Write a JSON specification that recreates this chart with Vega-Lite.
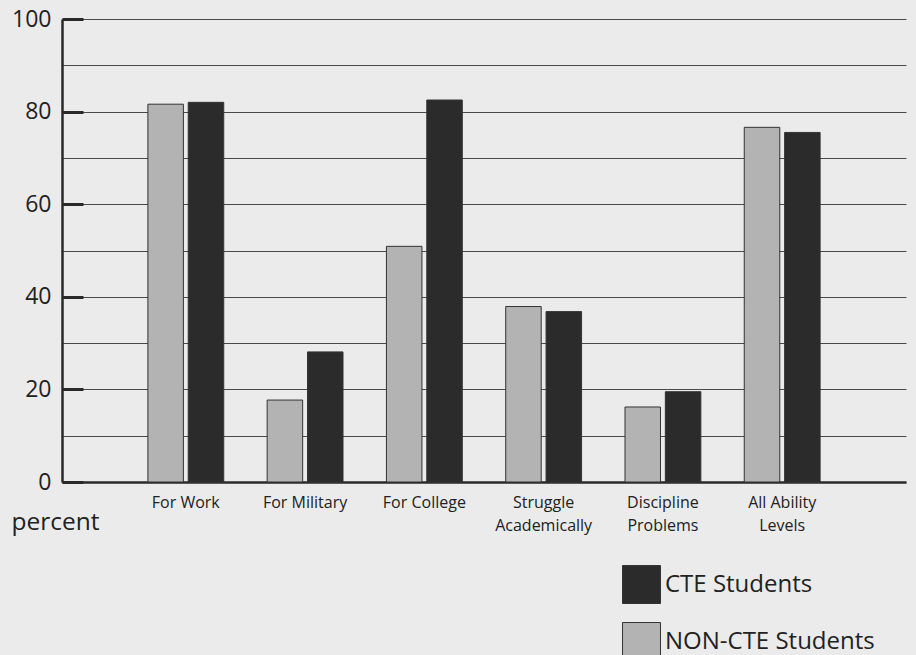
{
  "$schema": "https://vega.github.io/schema/vega-lite/v6.json",
  "width": 844,
  "height": 463,
  "autosize": {"type": "none"},
  "padding": {"left": 62, "top": 19, "right": 10, "bottom": 173},
  "background": "#ebebeb",
  "config": {
    "view": {"stroke": null},
    "font": "Open Sans"
  },
  "data": {
    "values": [
      {"category": "For Work", "group": "NON-CTE Students", "percent": 81.6},
      {"category": "For Work", "group": "CTE Students", "percent": 82.0},
      {"category": "For Military", "group": "NON-CTE Students", "percent": 17.7},
      {"category": "For Military", "group": "CTE Students", "percent": 28.1},
      {"category": "For College", "group": "NON-CTE Students", "percent": 50.9},
      {"category": "For College", "group": "CTE Students", "percent": 82.5},
      {"category": "Struggle Academically", "group": "NON-CTE Students", "percent": 37.9},
      {"category": "Struggle Academically", "group": "CTE Students", "percent": 36.8},
      {"category": "Discipline Problems", "group": "NON-CTE Students", "percent": 16.2},
      {"category": "Discipline Problems", "group": "CTE Students", "percent": 19.5},
      {"category": "All Ability Levels", "group": "NON-CTE Students", "percent": 76.6},
      {"category": "All Ability Levels", "group": "CTE Students", "percent": 75.5}
    ]
  },
  "mark": {"type": "bar", "stroke": "#333333", "strokeWidth": 1},
  "encoding": {
    "x": {
      "field": "category",
      "type": "nominal",
      "sort": null,
      "scale": {"paddingInner": 0.364, "paddingOuter": 0.72},
      "axis": {
        "title": null,
        "labelAngle": 0,
        "labelFontSize": 16,
        "labelColor": "#222222",
        "labelPadding": 12,
        "labelLineHeight": 23,
        "labelBaseline": "top",
        "ticks": false,
        "domainColor": "#2a2a2a",
        "domainWidth": 2.5,
        "labelExpr": "test(/^For /, datum.label) ? datum.label : [slice(datum.label, 0, lastindexof(datum.label, ' ')), slice(datum.label, lastindexof(datum.label, ' ') + 1)]"
      }
    },
    "xOffset": {
      "field": "group",
      "type": "nominal",
      "scale": {"domain": ["NON-CTE Students", "CTE Students"], "paddingInner": 0.12}
    },
    "y": {
      "field": "percent",
      "type": "quantitative",
      "scale": {"domain": [0, 100], "nice": false},
      "axis": {
        "title": "percent",
        "titleAngle": 0,
        "titleAlign": "left",
        "titleBaseline": "middle",
        "titleX": -51,
        "titleY": 503,
        "titleFontSize": 24.5,
        "titleFontWeight": "normal",
        "titleColor": "#222222",
        "values": [0, 10, 20, 30, 40, 50, 60, 70, 80, 90, 100],
        "labelExpr": "datum.value % 20 == 0 ? datum.label : ''",
        "labelFontSize": 23,
        "labelColor": "#222222",
        "labelPadding": 32,
        "tickSize": -21,
        "tickWidth": 3,
        "tickColor": "#2a2a2a",
        "tickOpacity": {"condition": {"test": "datum.value % 20 != 0", "value": 0}, "value": 1},
        "domainColor": "#2a2a2a",
        "domainWidth": 2.5,
        "grid": true,
        "gridColor": "#4a4a4a",
        "gridWidth": 1.2
      }
    },
    "color": {
      "field": "group",
      "type": "nominal",
      "scale": {"domain": ["CTE Students", "NON-CTE Students"], "range": ["#2b2b2b", "#b3b3b3"]},
      "legend": {
        "title": null,
        "orient": "none",
        "legendX": 560,
        "legendY": 546,
        "padding": 0,
        "symbolType": "square",
        "symbolSize": 1444,
        "symbolStrokeColor": "#333333",
        "symbolStrokeWidth": 1,
        "symbolOpacity": 1,
        "labelFontSize": 24,
        "labelColor": "#222222",
        "labelOffset": 4,
        "rowPadding": 14,
        "labelLimit": 300
      }
    }
  }
}
